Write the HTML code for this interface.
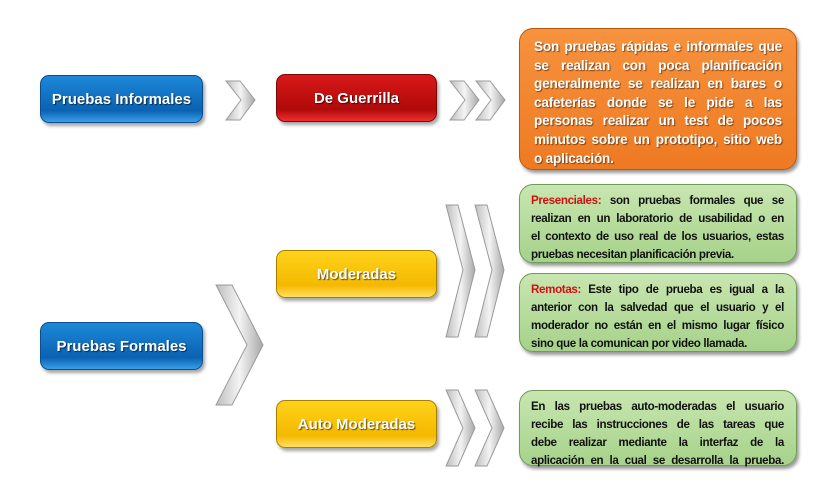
<!DOCTYPE html>
<html><head><meta charset="utf-8"><style>
body{margin:0;width:837px;height:494px;background:#fff;position:relative;overflow:hidden;font-family:"Liberation Sans",Arial,sans-serif}
.b{position:absolute;border-radius:9px;color:#fff;font-weight:bold;display:flex;align-items:center;justify-content:center;font-size:15px;text-shadow:1px 1px 1px rgba(0,0,0,.6);box-shadow:2px 3px 3px rgba(0,0,0,.35)}
.blue{background:linear-gradient(#1e88d8,#0a62b2 75%,#3a9ee8);border:1px solid #0b4f8e}
.red{background:linear-gradient(#d81818,#b00a0a 75%,#f03030);border:1px solid #7a0808}
.yel{background:linear-gradient(#ffd21a,#f4b800 75%,#ffe060);border:1px solid #a88000}
.t{position:absolute;border-radius:14px;font-weight:bold;box-shadow:2px 3px 3px rgba(0,0,0,.4);box-sizing:border-box}
.t div{white-space:nowrap;text-align:justify;text-align-last:justify}
.t div.l{text-align-last:left}
.or{background:linear-gradient(#f7923e,#ee7a22);border:1px solid #b35a10;color:#fff;font-size:13.6px;line-height:18.6px;padding:9px 14px 0 14px;text-shadow:1px 1px 1px rgba(0,0,0,.5);letter-spacing:-0.2px}
.gr{background:linear-gradient(#c8e6b0,#a6d28a);border:1px solid #6f9a58;color:#111;font-size:11.6px;line-height:18px;padding:7px 12px 0 11px;letter-spacing:-0.35px}
.rd{color:#d01010}
svg{position:absolute;left:0;top:0}
</style></head><body>
<svg width="837" height="494">
<defs><linearGradient id="g" x1="0" x2="1"><stop offset="0" stop-color="#bdbdbd"/><stop offset=".5" stop-color="#f4f4f4"/><stop offset="1" stop-color="#a8a8a8"/></linearGradient></defs>
<g fill="url(#g)" stroke="#9a9a9a" stroke-width="1">
<polygon points="226,81 240,81 255,100 240,120 226,120 241,100"/>
<polygon points="450,81 464,81 479,100 464,120 450,120 465,100"/>
<polygon points="476,81 490,81 505,100 490,120 476,120 491,100"/>
<polygon points="216,285 232,285 263,345 232,405 216,405 247,345"/>
<polygon points="446,205 458,205 475,270 458,337 446,337 463,270"/>
<polygon points="475,205 487,205 504,270 487,337 475,337 492,270"/>
<polygon points="446,390 458,390 475,428 458,466 446,466 463,428"/>
<polygon points="475,390 487,390 504,428 487,466 475,466 492,428"/>
</g></svg>
<div class="b blue" style="left:40px;top:75px;width:161px;height:46px">Pruebas Informales</div>
<div class="b red" style="left:276px;top:74px;width:159px;height:46px">De Guerrilla</div>
<div class="b blue" style="left:40px;top:322px;width:161px;height:46px">Pruebas Formales</div>
<div class="b yel" style="left:276px;top:250px;width:159px;height:46px">Moderadas</div>
<div class="b yel" style="left:276px;top:400px;width:159px;height:46px">Auto Moderadas</div>
<div class="t or" style="left:519px;top:28px;width:278px;height:142px">
<div>Son pruebas rápidas e informales que</div>
<div>se realizan con poca planificación</div>
<div>generalmente se realizan en bares o</div>
<div>cafeterías donde se le pide a las</div>
<div>personas realizar un test de pocos</div>
<div>minutos sobre un prototipo, sitio web</div>
<div class="l">o aplicación.</div></div>
<div class="t gr" style="left:519px;top:184px;width:278px;height:79px">
<div><span class="rd">Presenciales:</span> son pruebas formales que se</div>
<div>realizan en un laboratorio de usabilidad o en</div>
<div>el contexto de uso real de los usuarios, estas</div>
<div class="l">pruebas necesitan planificación previa.</div></div>
<div class="t gr" style="left:519px;top:273px;width:278px;height:79px">
<div><span class="rd">Remotas:</span> Este tipo de prueba es igual a la</div>
<div>anterior con la salvedad que el usuario y el</div>
<div>moderador no están en el mismo lugar físico</div>
<div class="l">sino que la comunican por video llamada.</div></div>
<div class="t gr" style="left:519px;top:390px;width:278px;height:76px">
<div>En las pruebas auto-moderadas el usuario</div>
<div>recibe las instrucciones de las tareas que</div>
<div>debe realizar mediante la interfaz de la</div>
<div>aplicación en la cual se desarrolla la prueba.</div></div>
</body></html>
